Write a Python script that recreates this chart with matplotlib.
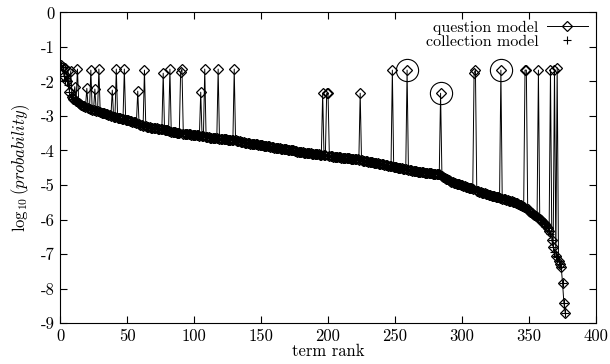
import numpy as np
import matplotlib
matplotlib.use('Agg')
from matplotlib import pyplot as plt

plt.rcParams['font.family'] = 'serif'
plt.rcParams['font.serif'] = ['cmr10', 'DejaVu Serif']
plt.rcParams['mathtext.fontset'] = 'cm'
plt.rcParams['axes.unicode_minus'] = False
plt.rcParams['font.size'] = 12

# collection model log10 probability, term ranks 1..377
collection = [
    -1.52, -1.58, -1.85, -1.95, -2.00, -2.10, -2.30, -2.40, -2.45, -2.50,
    -2.53, -2.56, -2.60, -2.63, -2.66, -2.68, -2.70, -2.72, -2.74, -2.76,
    -2.78, -2.79, -2.80, -2.82, -2.83, -2.84, -2.85, -2.86, -2.87, -2.89,
    -2.90, -2.91, -2.92, -2.94, -2.95, -2.96, -2.97, -2.99, -3.00, -3.02,
    -3.03, -3.04, -3.05, -3.06, -3.07, -3.08, -3.09, -3.10, -3.11, -3.12,
    -3.13, -3.14, -3.15, -3.16, -3.17, -3.18, -3.20, -3.22, -3.24, -3.26,
    -3.27, -3.28, -3.29, -3.30, -3.31, -3.32, -3.33, -3.34, -3.34, -3.35,
    -3.36, -3.36, -3.37, -3.38, -3.38, -3.39, -3.40, -3.40, -3.41, -3.42,
    -3.43, -3.44, -3.45, -3.46, -3.46, -3.47, -3.48, -3.48, -3.49, -3.50,
    -3.50, -3.51, -3.51, -3.52, -3.52, -3.53, -3.53, -3.54, -3.54, -3.55,
    -3.55, -3.56, -3.56, -3.57, -3.57, -3.58, -3.59, -3.60, -3.61, -3.62,
    -3.62, -3.63, -3.63, -3.64, -3.64, -3.65, -3.65, -3.66, -3.66, -3.67,
    -3.67, -3.68, -3.68, -3.68, -3.69, -3.69, -3.70, -3.70, -3.70, -3.71,
    -3.71, -3.72, -3.72, -3.73, -3.74, -3.75, -3.76, -3.77, -3.78, -3.79,
    -3.79, -3.80, -3.80, -3.81, -3.81, -3.82, -3.82, -3.83, -3.84, -3.85,
    -3.85, -3.86, -3.86, -3.87, -3.88, -3.88, -3.89, -3.90, -3.91, -3.92,
    -3.92, -3.93, -3.93, -3.94, -3.95, -3.95, -3.96, -3.97, -3.97, -3.98,
    -3.98, -3.99, -4.00, -4.00, -4.01, -4.02, -4.03, -4.03, -4.04, -4.05,
    -4.05, -4.06, -4.06, -4.07, -4.07, -4.08, -4.08, -4.09, -4.09, -4.10,
    -4.10, -4.11, -4.11, -4.12, -4.12, -4.13, -4.14, -4.14, -4.15, -4.16,
    -4.16, -4.17, -4.17, -4.18, -4.18, -4.19, -4.19, -4.20, -4.20, -4.21,
    -4.21, -4.22, -4.22, -4.22, -4.23, -4.23, -4.24, -4.24, -4.25, -4.25,
    -4.26, -4.26, -4.27, -4.28, -4.28, -4.29, -4.30, -4.30, -4.31, -4.32,
    -4.33, -4.33, -4.34, -4.35, -4.36, -4.37, -4.37, -4.38, -4.39, -4.40,
    -4.40, -4.41, -4.42, -4.43, -4.44, -4.45, -4.46, -4.47, -4.48, -4.48,
    -4.49, -4.50, -4.51, -4.52, -4.52, -4.53, -4.54, -4.55, -4.55, -4.56,
    -4.57, -4.57, -4.58, -4.59, -4.59, -4.60, -4.61, -4.61, -4.62, -4.63,
    -4.63, -4.64, -4.64, -4.65, -4.65, -4.66, -4.66, -4.67, -4.67, -4.68,
    -4.68, -4.69, -4.69, -4.70, -4.73, -4.76, -4.79, -4.82, -4.84, -4.86,
    -4.88, -4.90, -4.91, -4.93, -4.94, -4.96, -4.97, -4.98, -4.99, -5.00,
    -5.02, -5.03, -5.05, -5.06, -5.08, -5.09, -5.10, -5.11, -5.13, -5.14,
    -5.16, -5.17, -5.19, -5.20, -5.22, -5.23, -5.24, -5.26, -5.27, -5.28,
    -5.30, -5.31, -5.32, -5.33, -5.34, -5.35, -5.36, -5.37, -5.38, -5.40,
    -5.41, -5.42, -5.43, -5.44, -5.45, -5.46, -5.47, -5.48, -5.50, -5.51,
    -5.53, -5.55, -5.57, -5.59, -5.61, -5.63, -5.65, -5.68, -5.71, -5.74,
    -5.77, -5.80, -5.83, -5.86, -5.89, -5.92, -5.95, -5.98, -6.02, -6.06,
    -6.10, -6.14, -6.19, -6.25, -6.32, -6.42, -6.60, -6.80, -6.95, -7.05,
    -7.10, -7.20, -7.30, -7.38, -7.83, -8.41, -8.70,
]

# terms that occur in the question: rank and question model value
spike_rank = [4, 6, 8, 11, 13, 20, 23, 26, 29, 39, 42, 48, 58, 63, 77, 82,
              90, 91, 105, 108, 118, 130, 196, 199, 200, 224, 248, 259, 284,
              309, 310, 329, 347, 348, 357, 366, 369, 371]
spike_value = [-1.62, -1.70, -1.69, -2.15, -1.64, -2.20, -1.67, -2.22, -1.64,
               -2.25, -1.64, -1.64, -2.28, -1.67, -1.76, -1.64, -1.73, -1.64,
               -2.31, -1.64, -1.64, -1.64, -2.34, -2.34, -2.34, -2.34, -1.67,
               -1.67, -2.34, -1.75, -1.67, -1.67, -1.67, -1.67, -1.67, -1.67,
               -1.67, -1.60]

# circled terms
circle_rank = [259, 284, 329]
circle_value = [-1.67, -2.34, -1.67]

rank = np.arange(1, len(collection) + 1)
question = np.array(collection, dtype=float)
question[np.array(spike_rank) - 1] = spike_value

fig = plt.figure(figsize=(6.10, 3.64), dpi=100)
ax = fig.add_axes([0.0984, 0.1126, 0.8787, 0.8531])

ax.plot(rank, question, '-', color='black', lw=0.7, marker='D', ms=5,
        mfc='none', mec='black', mew=0.9, label='question model')
ax.plot(rank, collection, '+', color='black', ms=5.5, mew=0.8,
        label='collection model')
ax.plot(circle_rank, circle_value, 'o', ms=16, mfc='none', mec='black',
        mew=0.8)

ax.set_xlim(0, 400)
ax.set_ylim(-9, 0)
x_ticks = [0, 50, 100, 150, 200, 250, 300, 350, 400]
y_ticks = [-9, -8, -7, -6, -5, -4, -3, -2, -1, 0]
ax.set_xticks(x_ticks)
ax.set_xticklabels([str(t) for t in x_ticks])
ax.set_yticks(y_ticks)
ax.set_yticklabels([str(t) for t in y_ticks])
ax.tick_params(direction='in', length=5, width=0.8, top=True, right=True,
               labeltop=False, labelright=False, pad=4)
for s in ax.spines.values():
    s.set_linewidth(0.8)

ax.set_xlabel('term rank', labelpad=0)
ax.set_ylabel(r'$\log_{10}(probability)$', labelpad=6)

ax.legend(loc='upper right', frameon=False, markerfirst=False, fontsize=11.5,
          handlelength=2.6, labelspacing=0.0, borderaxespad=0.1,
          handletextpad=0.5)

plt.savefig('out.png', dpi=100)
